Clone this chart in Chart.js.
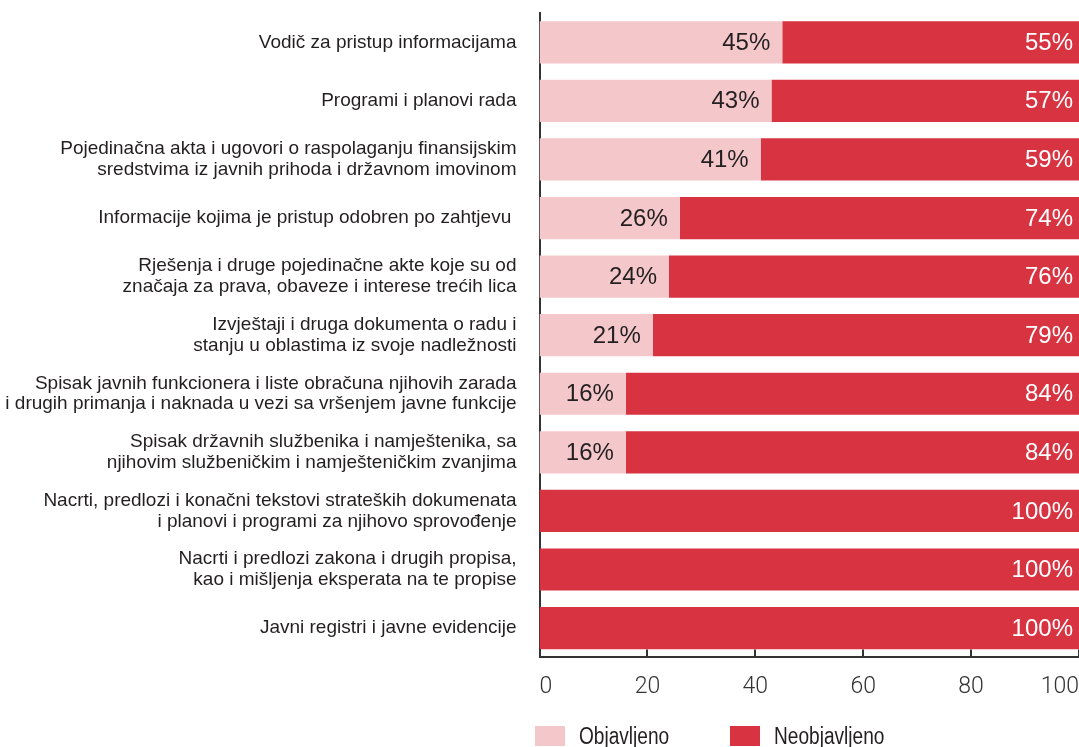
<!DOCTYPE html>
<html>
<head>
<meta charset="utf-8">
<script src="https://cdn.jsdelivr.net/npm/chart.js@4"></script>
<style>
  body { margin: 0; background: #fff; }
  #wrap { position: relative; width: 1079px; height: 747px; }
  #legend { position: absolute; left: 535px; top: 726px; display: flex; font-family: 'Liberation Sans', Arial, sans-serif; font-size: 23px; color: #231f20; }
  #legend .item { display: flex; align-items: center; height: 20px; }
  #legend .box { width: 30px; height: 20px; margin-right: 14px; flex: none; }
  #legend .txt { display: inline-block; transform: scaleX(0.83); transform-origin: left center; line-height: 20px; }
</style>
</head>
<body>
<div id="wrap">
  <canvas id="chart" width="1079" height="747"></canvas>
  <div id="legend"></div>
</div>
<script>
const categories = [
  'Vodič za pristup informacijama',
  'Programi i planovi rada',
  ['Pojedinačna akta i ugovori o raspolaganju finansijskim', 'sredstvima iz javnih prihoda i državnom imovinom'],
  'Informacije kojima je pristup odobren po zahtjevu ',
  ['Rješenja i druge pojedinačne akte koje su od', 'značaja za prava, obaveze i interese trećih lica'],
  ['Izvještaji i druga dokumenta o radu i', 'stanju u oblastima iz svoje nadležnosti'],
  ['Spisak javnih funkcionera i liste obračuna njihovih zarada', 'i drugih primanja i naknada u vezi sa vršenjem javne funkcije'],
  ['Spisak državnih službenika i namještenika, sa', 'njihovim službeničkim i namješteničkim zvanjima'],
  ['Nacrti, predlozi i konačni tekstovi strateških dokumenata', 'i planovi i programi za njihovo sprovođenje'],
  ['Nacrti i predlozi zakona i drugih propisa,', 'kao i mišljenja eksperata na te propise'],
  'Javni registri i javne evidencije'
];
const objavljeno = [45, 43, 41, 26, 24, 21, 16, 16, 0, 0, 0];
const neobjavljeno = [55, 57, 59, 74, 76, 79, 84, 84, 100, 100, 100];
const xTicks = [0, 20, 40, 60, 80, 100];

const pink = '#f4c7cb';
const red = '#d83340';
const axisColor = '#333333';

// percent labels at the end of each segment
const valueLabels = {
  id: 'valueLabels',
  afterDatasetsDraw(chart) {
    const ctx = chart.ctx;
    ctx.save();
    ctx.font = '24px "Liberation Sans", Arial, sans-serif';
    ctx.textAlign = 'right';
    ctx.textBaseline = 'middle';
    chart.data.datasets.forEach((ds, i) => {
      const meta = chart.getDatasetMeta(i);
      meta.data.forEach((bar, j) => {
        const v = ds.data[j];
        if (!v) return;
        ctx.fillStyle = i === 0 ? '#231f20' : '#ffffff';
        ctx.fillText(v + '%', bar.x - (i === 0 ? 12 : 6), bar.y + 1);
      });
    });
    ctx.restore();
  }
};

// small tick marks pointing up from the x axis
const innerTicks = {
  id: 'innerTicks',
  afterDraw(chart) {
    const x = chart.scales.x;
    const ctx = chart.ctx;
    ctx.save();
    ctx.strokeStyle = axisColor;
    ctx.lineWidth = 2;
    x.ticks.forEach(t => {
      const px = Math.round(x.getPixelForValue(t.value));
      ctx.beginPath();
      ctx.moveTo(px, x.top - 8);
      ctx.lineTo(px, x.top);
      ctx.stroke();
    });
    ctx.restore();
  }
};

const chart = new Chart(document.getElementById('chart'), {
  type: 'bar',
  data: {
    labels: categories,
    datasets: [
      { label: 'Objavljeno', data: objavljeno, backgroundColor: pink },
      { label: 'Neobjavljeno', data: neobjavljeno, backgroundColor: red }
    ]
  },
  options: {
    indexAxis: 'y',
    responsive: false,
    animation: false,
    layout: { padding: { top: 13, bottom: 30, right: 0, left: 0 } },
    datasets: { bar: { categoryPercentage: 1, barPercentage: 0.72 } },
    plugins: {
      legend: { display: false },
      tooltip: { enabled: false }
    },
    scales: {
      x: {
        stacked: true,
        min: 0,
        max: 100,
        afterBuildTicks: s => { s.ticks = xTicks.map(v => ({ value: v })); },
        afterFit: s => { s.paddingLeft = 0; s.paddingRight = 0; },
        grid: { display: false, drawTicks: false },
        border: { display: true, color: axisColor, width: 2 },
        ticks: { align: 'inner', padding: 16, color: '#333', font: { family: 'Roboto, sans-serif', weight: 300, size: 23 } }
      },
      y: {
        stacked: true,
        afterFit: s => { s.paddingTop = 0; s.paddingBottom = 0; },
        grid: { display: false, drawTicks: false },
        border: { display: true, color: axisColor, width: 2 },
        ticks: { padding: 23, color: '#231f20', font: { family: '"Liberation Sans", Arial, sans-serif', size: 19, lineHeight: 1.1 } }
      }
    }
  },
  plugins: [valueLabels, innerTicks]
});

// html legend built from the datasets
const legend = document.getElementById('legend');
chart.data.datasets.forEach((ds, i) => {
  const item = document.createElement('div');
  item.className = 'item';
  const box = document.createElement('span');
  box.className = 'box';
  box.style.background = ds.backgroundColor;
  const txt = document.createElement('span');
  txt.className = 'txt';
  txt.textContent = ds.label;
  item.appendChild(box);
  item.appendChild(txt);
  legend.appendChild(item);
  if (i === 0) {
    // scaled text keeps its layout width, so space the next item from the visual width
    item.style.width = (30 + 14 + txt.offsetWidth * 0.83 + 61) + 'px';
  }
});
</script>
</body>
</html>
